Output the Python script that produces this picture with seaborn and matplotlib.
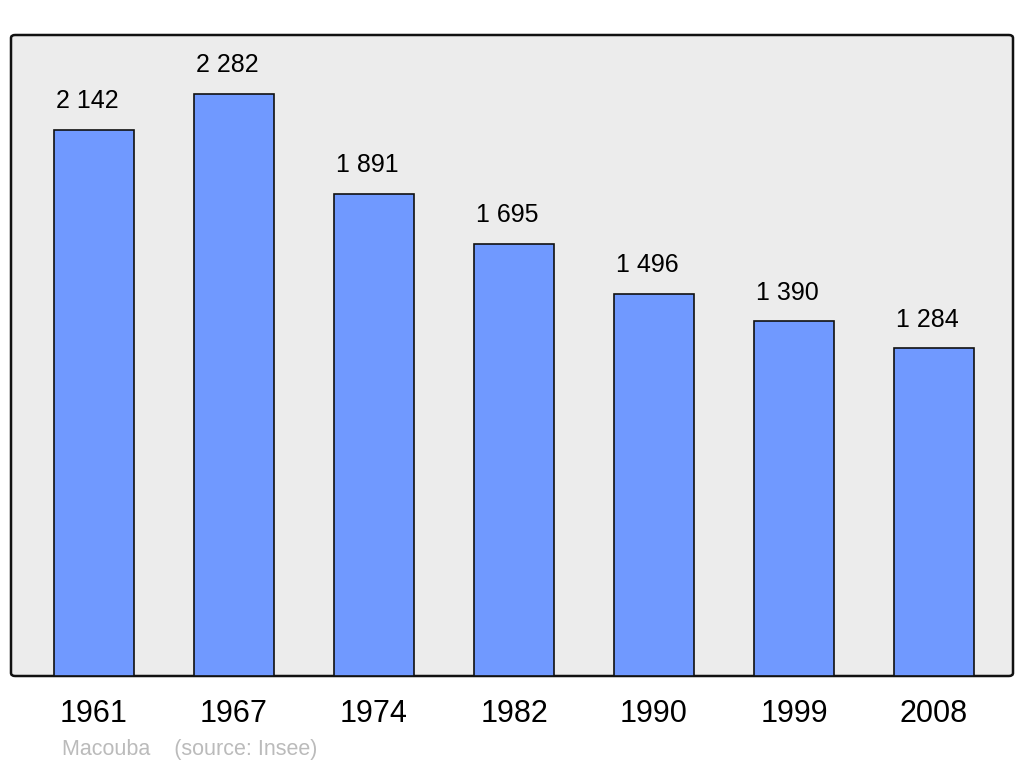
import matplotlib
matplotlib.use("Agg")
import matplotlib.pyplot as plt
import seaborn as sns
import pandas as pd
from matplotlib.patches import FancyBboxPatch

years = ["1961", "1967", "1974", "1982", "1990", "1999", "2008"]
population = [2142, 2282, 1891, 1695, 1496, 1390, 1284]
labels = ["2 142", "2 282", "1 891", "1 695", "1 496", "1 390", "1 284"]
footer = "Macouba    (source: Insee)"

sns.set_theme(style="white")
plt.rcParams["font.family"] = ["Liberation Sans", "DejaVu Sans"]

df = pd.DataFrame({"year": years, "pop": population})

fig = plt.figure(figsize=(10.24, 7.65), dpi=100)
ax = fig.add_axes([11 / 1024, 89 / 765, 1002 / 1024, 641 / 765])
ax.set_facecolor("none")
ax.set_zorder(2)

# rounded grey frame behind the axes
frame = FancyBboxPatch((11 / 1024, 89 / 765), 1002 / 1024, 641 / 765,
                       boxstyle="round,pad=0,rounding_size=0.004",
                       transform=fig.transFigure, facecolor="#ececec",
                       edgecolor="#111111", linewidth=1.8, zorder=0)
fig.patches.append(frame)

sns.barplot(data=df, x="year", y="pop", color="#7099ff", saturation=1,
            width=0.571, edgecolor="#111111", linewidth=1.2, ax=ax, zorder=2)

for i, (v, lab) in enumerate(zip(population, labels)):
    ax.text(i - 0.05, v + 86, lab, ha="center", va="baseline",
            fontsize=18, color="black")

ax.set_xlim(-0.593, 6.564)
ax.set_ylim(0, 2513)
ax.set_yticks([])
ax.set_xlabel("")
ax.set_ylabel("")
ax.tick_params(axis="x", length=0, pad=16.5, labelsize=22, colors="black")
for s in ax.spines.values():
    s.set_visible(False)

fig.text(62 / 1024, 10 / 765, footer, fontsize=15.5, color="#bbbbbb",
         ha="left", va="baseline")

fig.savefig("out.png", dpi=100)
